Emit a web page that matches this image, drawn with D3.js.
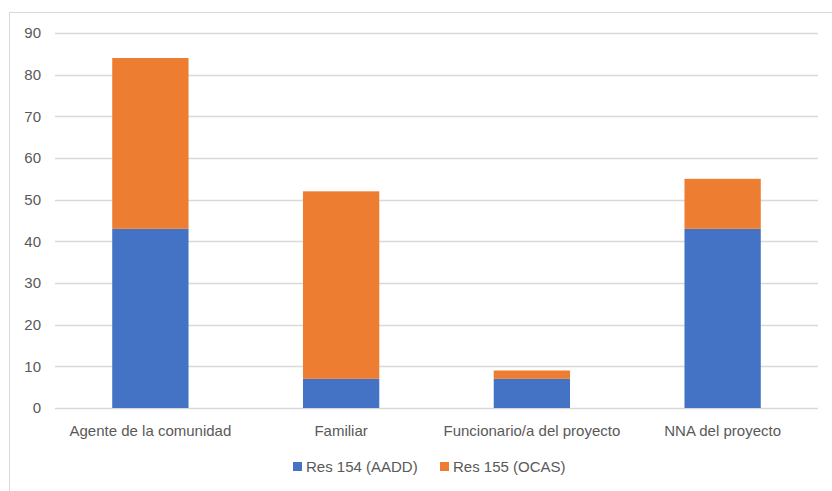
<!DOCTYPE html>
<html>
<head>
    <meta charset="UTF-8">
    <title></title>
    <style>
        body { margin: 0; background: #fff; }
        svg text { font-family: "Liberation Sans", "DejaVu Sans", sans-serif; fill: #595959; }
    </style>
    <script src="https://cdnjs.cloudflare.com/ajax/libs/d3/7.8.5/d3.min.js"></script>
</head>
<body>
<div id="chart"></div>
<script>
    var categories = ['Agente de la comunidad', 'Familiar', 'Funcionario/a del proyecto', 'NNA del proyecto'];
    var seriesNames = ['Res 154 (AADD)', 'Res 155 (OCAS)'];
    var res154 = [43, 7, 7, 43];
    var res155 = [41, 45, 2, 12];
    var yTicks = [0, 10, 20, 30, 40, 50, 60, 70, 80, 90];
    var colors = ['#4472C4', '#ED7D31'];

    var width = 832, height = 491;
    var margin = {left: 55, right: 14, top: 33, bottom: 83};

    var svg = d3.select('#chart').append('svg')
            .attr('width', width)
            .attr('height', height);

    // chart frame
    svg.append('rect')
            .attr('x', 9.5).attr('y', 12.5)
            .attr('width', width).attr('height', height)
            .attr('fill', 'none')
            .attr('stroke', '#D9D9D9');

    var x = d3.scaleBand()
            .domain(categories)
            .range([margin.left, width - margin.right])
            .paddingInner(0.6)
            .paddingOuter(0.3);

    var y = d3.scaleLinear()
            .domain([0, 90])
            .range([height - margin.bottom, margin.top]);

    // gridlines
    svg.append('g').selectAll('line')
            .data(yTicks)
            .enter().append('line')
            .attr('x1', margin.left).attr('x2', width - margin.right)
            .attr('y1', function (d) { return Math.round(y(d)) + 0.5; })
            .attr('y2', function (d) { return Math.round(y(d)) + 0.5; })
            .attr('stroke', '#D9D9D9')
            .attr('stroke-width', 1.3);

    // stacked bars
    var rows = categories.map(function (c, i) {
        return {cat: c, a: res154[i], b: res155[i]};
    });
    var stack = d3.stack().keys(['a', 'b'])(rows);

    svg.append('g').selectAll('g')
            .data(stack)
            .enter().append('g')
            .attr('fill', function (d, i) { return colors[i]; })
            .selectAll('rect')
            .data(function (d) { return d; })
            .enter().append('rect')
            .attr('x', function (d) { return x(d.data.cat); })
            .attr('width', x.bandwidth())
            .attr('y', function (d) { return y(d[1]); })
            .attr('height', function (d) { return y(d[0]) - y(d[1]); });

    // y axis labels
    var yAxis = svg.append('g')
            .attr('transform', 'translate(' + (margin.left - 14) + ',0)')
            .call(d3.axisLeft(y).tickValues(yTicks).tickSize(0).tickPadding(0));
    yAxis.select('.domain').remove();
    yAxis.selectAll('text')
            .attr('font-size', 15)
            .style('font-family', '"Liberation Sans", sans-serif')
            .attr('fill', '#595959');

    // x axis labels
    var xAxis = svg.append('g')
            .attr('transform', 'translate(0,' + (height - margin.bottom) + ')')
            .call(d3.axisBottom(x).tickSize(0).tickPadding(17));
    xAxis.select('.domain').remove();
    xAxis.selectAll('text')
            .attr('font-size', 15)
            .style('font-family', '"Liberation Sans", sans-serif')
            .attr('fill', '#595959');

    // legend
    var legendX = [293, 440];
    var legend = svg.append('g').selectAll('g')
            .data(seriesNames)
            .enter().append('g')
            .attr('transform', function (d, i) { return 'translate(' + legendX[i] + ',462)'; });
    legend.append('rect')
            .attr('width', 9).attr('height', 9)
            .attr('fill', function (d, i) { return colors[i]; });
    legend.append('text')
            .attr('x', 13).attr('y', 10)
            .attr('font-size', 15)
            .text(function (d) { return d; });
</script>
</body>
</html>
